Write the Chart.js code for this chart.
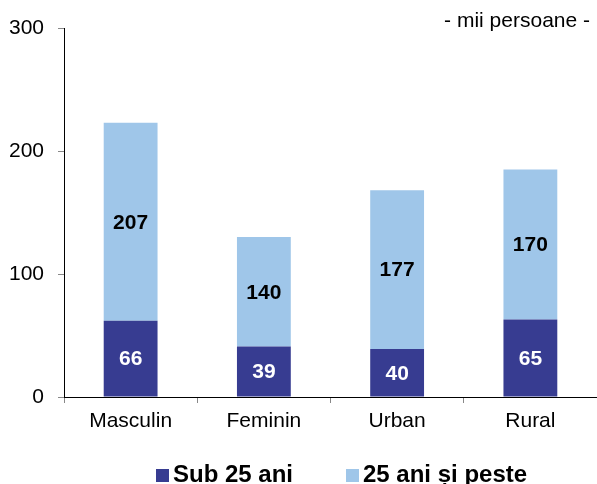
<!DOCTYPE html>
<html>
<head>
<meta charset="utf-8">
<script src="https://cdn.jsdelivr.net/npm/chart.js@4/dist/chart.umd.min.js"></script>
<style>
  body { margin: 0; background: #fff; }
</style>
</head>
<body>
<canvas id="myChart" width="597" height="484"></canvas>
<script>
// categorii si serii
const categories = ['Masculin', 'Feminin', 'Urban', 'Rural'];
const seriesNames = ['Sub 25 ani', '25 ani și peste'];
// inaltimile barelor
const sub25Values = [62, 41, 39, 63];
const peste25Values = [161, 89, 129, 122];
// etichetele tiparite pe bare
const sub25Labels = [66, 39, 40, 65];
const peste25Labels = [207, 140, 177, 170];
const yTicks = [0, 100, 200, 300];
const unitText = '- mii persoane -';

const FONT = "'Liberation Sans', Arial, sans-serif";

// etichete in mijlocul fiecarui segment
const barLabels = {
  id: 'barLabels',
  afterDatasetsDraw(chart) {
    const ctx = chart.ctx;
    ctx.save();
    ctx.font = 'bold 21px ' + FONT;
    ctx.textAlign = 'center';
    ctx.textBaseline = 'middle';
    chart.data.datasets.forEach((ds, i) => {
      const meta = chart.getDatasetMeta(i);
      ctx.fillStyle = ds.labelColor;
      meta.data.forEach((bar, j) => {
        const p = bar.getCenterPoint();
        ctx.fillText(String(ds.shownLabels[j]), p.x, p.y + 1);
      });
    });
    ctx.restore();
  }
};

// unitatea din dreapta sus + legenda de jos
const extras = {
  id: 'extras',
  afterDraw(chart) {
    const ctx = chart.ctx;
    ctx.save();
    ctx.fillStyle = '#000';
    ctx.font = '21px ' + FONT;
    ctx.textAlign = 'right';
    ctx.textBaseline = 'alphabetic';
    ctx.fillText(unitText, 590, 27);

    ctx.font = 'bold 24px ' + FONT;
    ctx.textAlign = 'left';
    const boxX = [156, 346];
    chart.data.datasets.forEach((ds, i) => {
      ctx.fillStyle = ds.backgroundColor;
      ctx.fillRect(boxX[i], 469, 13, 13);
      ctx.fillStyle = '#000';
      ctx.fillText(ds.label, boxX[i] + 17, 482);
    });
    ctx.restore();
  }
};

let ctx = document.getElementById('myChart').getContext('2d');
let myChart = new Chart(ctx, {
  type: 'bar',
  data: {
    labels: categories,
    datasets: [{
      label: seriesNames[0],
      data: sub25Values,
      shownLabels: sub25Labels,
      labelColor: '#ffffff',
      backgroundColor: '#373c91',
      barPercentage: 0.404,
      categoryPercentage: 1.0
    }, {
      label: seriesNames[1],
      data: peste25Values,
      shownLabels: peste25Labels,
      labelColor: '#000000',
      backgroundColor: '#9fc6e9',
      barPercentage: 0.404,
      categoryPercentage: 1.0
    }]
  },
  plugins: [barLabels, extras],
  options: {
    responsive: false,
    animation: false,
    plugins: {
      legend: { display: false },
      tooltip: { enabled: false }
    },
    layout: {
      padding: { top: 28, right: 0, left: 0, bottom: 0 }
    },
    scales: {
      x: {
        stacked: true,
        afterFit(scale) { scale.height = 87; },
        grid: {
          offset: true,
          drawOnChartArea: false,
          tickLength: 6,
          color: '#888'
        },
        border: { color: '#000', width: 1 },
        ticks: {
          color: '#000',
          padding: 6,
          font: { family: FONT, size: 21 }
        }
      },
      y: {
        stacked: true,
        min: yTicks[0],
        max: yTicks[yTicks.length - 1],
        afterFit(scale) { scale.width = 64; },
        afterBuildTicks(scale) { scale.ticks = yTicks.map(v => ({ value: v })); },
        grid: {
          drawOnChartArea: false,
          tickLength: 6,
          color: '#888'
        },
        border: { color: '#000', width: 1 },
        ticks: {
          color: '#000',
          padding: 14,
          font: { family: FONT, size: 21 }
        }
      }
    }
  }
});
</script>
</body>
</html>
